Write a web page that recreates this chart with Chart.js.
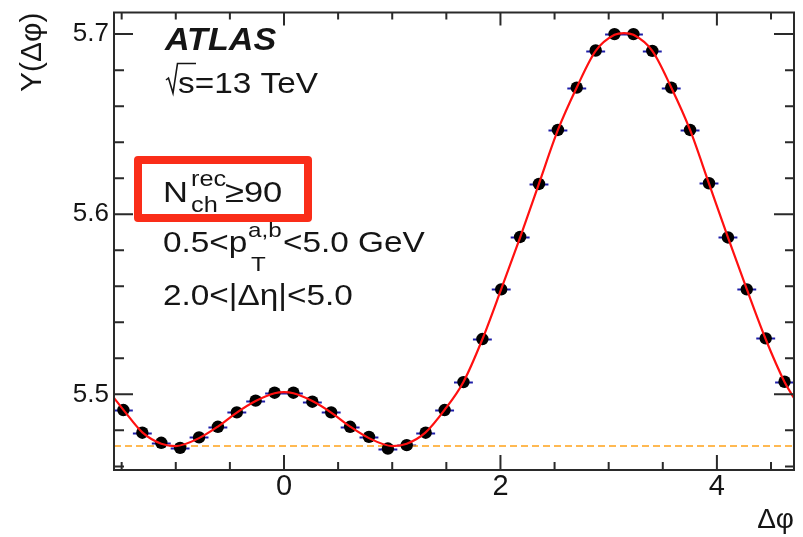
<!DOCTYPE html>
<html>
<head>
<meta charset="utf-8">
<script src="https://cdn.jsdelivr.net/npm/chart.js@4/dist/chart.umd.min.js"></script>
<style>
  html, body { margin: 0; padding: 0; background: #fff; }
  canvas { display: block; }
</style>
</head>
<body>
<canvas id="c" width="803" height="537"></canvas>
<script>
// Δφ bin centres (36 bins over [-π/2, 3π/2])
const dPhi = [-1.484, -1.309, -1.134, -0.960, -0.785, -0.611, -0.436, -0.262, -0.087,
               0.087,  0.262,  0.436,  0.611,  0.785,  0.960,  1.134,  1.309,  1.484,
               1.658,  1.833,  2.007,  2.182,  2.356,  2.531,  2.705,  2.880,  3.054,
               3.229,  3.403,  3.578,  3.752,  3.927,  4.102,  4.276,  4.451,  4.625];
// per-trigger yield Y(Δφ)
const yield_ = [5.4913, 5.4787, 5.4731, 5.4703, 5.4761, 5.4820, 5.4900, 5.4965, 5.5009,
                5.5009, 5.4959, 5.4900, 5.4820, 5.4764, 5.4699, 5.4718, 5.4787, 5.4913,
                5.5068, 5.5307, 5.5583, 5.5874, 5.6168, 5.6468, 5.6703, 5.6909, 5.7000,
                5.7000, 5.6907, 5.6703, 5.6468, 5.6172, 5.5871, 5.5583, 5.5311, 5.5070];
// half bin width (horizontal error bars)
const binHalfWidth = 0.0873;

// Fourier fit curve, sampled
const fitX = [-1.571, -1.484, -1.309, -1.134, -1.000, -0.785, -0.611, -0.436, -0.262, -0.087, 0.000,
               0.087,  0.262,  0.436,  0.611,  0.785,  1.000,  1.134,  1.309,  1.484,  1.658,
               1.833,  2.007,  2.182,  2.356,  2.531,  2.705,  2.880,  3.054,  3.142,  3.229,
               3.403,  3.578,  3.752,  3.927,  4.102,  4.276,  4.451,  4.625,  4.712];
const fitY = [5.4980, 5.4914, 5.4789, 5.4726, 5.4713, 5.4757, 5.4821, 5.4899, 5.4963, 5.5006, 5.5012,
              5.5006, 5.4963, 5.4899, 5.4821, 5.4757, 5.4713, 5.4726, 5.4789, 5.4914, 5.5069,
              5.5306, 5.5584, 5.5872, 5.6170, 5.6468, 5.6704, 5.6907, 5.6996, 5.7006, 5.6996,
              5.6907, 5.6704, 5.6468, 5.6170, 5.5872, 5.5584, 5.5306, 5.5069, 5.4980];
// ZYAM pedestal level
const pedestal = 5.4713;

// axis labels
const xTickLabels = [0, 2, 4];
const yTickLabels = [5.5, 5.6, 5.7];
const xMin = -Math.PI / 2, xMax = 3 * Math.PI / 2;
const yMin = 5.458, yMax = 5.712;

const FONT = '"Liberation Sans", Arial, Helvetica, sans-serif';
const INK = '#151515';

const points = dPhi.map((x, i) => ({ x, y: yield_[i] }));
const fitPts = fitX.map((x, i) => ({ x, y: fitY[i] }));
const pedPts = [{ x: xMin, y: pedestal }, { x: xMax, y: pedestal }];

// horizontal error bars along each bin
const errorBars = {
  id: 'errorBars',
  beforeDatasetsDraw(chart) {
    const { ctx, scales: { x, y } } = chart;
    ctx.save();
    ctx.strokeStyle = '#1e1ea8';
    ctx.lineWidth = 2;
    points.forEach(p => {
      const py = Math.round(y.getPixelForValue(p.y)) + 0.5;
      ctx.beginPath();
      ctx.moveTo(x.getPixelForValue(p.x - binHalfWidth), py);
      ctx.lineTo(x.getPixelForValue(p.x + binHalfWidth), py);
      ctx.stroke();
    });
    ctx.restore();
  }
};

// frame with inward ticks on all four sides
const frame = {
  id: 'frame',
  afterDraw(chart) {
    const { ctx, chartArea: a, scales: { x, y } } = chart;
    ctx.save();
    ctx.strokeStyle = '#2a2a2a';
    ctx.lineWidth = 2;
    ctx.strokeRect(a.left, a.top, a.right - a.left, a.bottom - a.top);
    ctx.beginPath();
    for (let k = -3; k <= 9; k++) {
      const v = k * 0.5;
      if (v < xMin || v > xMax) continue;
      const px = x.getPixelForValue(v);
      const major = (k % 4 === 0);
      ctx.moveTo(px, a.bottom); ctx.lineTo(px, a.bottom - (major ? 15 : 8));
      ctx.moveTo(px, a.top); ctx.lineTo(px, a.top + (major ? 13 : 7));
    }
    for (let k = 273; k <= 285; k++) {
      const v = k * 0.02;
      if (v < yMin || v > yMax) continue;
      const py = y.getPixelForValue(v);
      const major = (k % 5 === 0);
      ctx.moveTo(a.left, py); ctx.lineTo(a.left + (major ? 19 : 10), py);
      ctx.moveTo(a.right, py); ctx.lineTo(a.right - (major ? 20 : 9), py);
    }
    ctx.stroke();
    ctx.restore();
  }
};

function wideText(ctx, text, x, y, font, sx) {
  ctx.save();
  ctx.font = font;
  ctx.translate(x, y);
  ctx.scale(sx, 1);
  ctx.fillText(text, 0, 0);
  ctx.restore();
}

// experiment label and selection text
const labels = {
  id: 'labels',
  afterDraw(chart) {
    const { ctx } = chart;
    ctx.save();
    ctx.fillStyle = INK;
    ctx.textBaseline = 'alphabetic';
    ctx.textAlign = 'left';
    const SX = 1.15;

    wideText(ctx, 'ATLAS', 165, 50, `italic bold 31px ${FONT}`, 1.1);

    // √s=13 TeV
    ctx.strokeStyle = INK;
    ctx.lineWidth = 1.6;
    ctx.lineJoin = 'miter';
    ctx.beginPath();
    ctx.moveTo(166, 80); ctx.lineTo(168.5, 78);
    ctx.lineTo(173, 93); ctx.lineTo(177.5, 63.5); ctx.lineTo(196, 63.5);
    ctx.stroke();
    wideText(ctx, 's=13 TeV', 178, 92.7, `29px ${FONT}`, SX);

    // multiplicity selection in a red box
    ctx.strokeStyle = '#fa2d19';
    ctx.lineWidth = 8;
    ctx.lineJoin = 'round';
    ctx.strokeRect(138, 160, 170, 58);
    wideText(ctx, 'N', 163, 201.7, `30px ${FONT}`, SX);
    wideText(ctx, 'rec', 191, 186, `22px ${FONT}`, SX);
    wideText(ctx, 'ch', 191, 211.5, `22px ${FONT}`, SX);
    wideText(ctx, '≥90', 225, 201.7, `30px ${FONT}`, SX);

    // pT range
    wideText(ctx, '0.5<p', 163, 251.7, `29px ${FONT}`, SX);
    wideText(ctx, 'a,b', 248, 237, `21px ${FONT}`, SX);
    wideText(ctx, 'T', 251, 270.5, `21px ${FONT}`, SX);
    wideText(ctx, '<5.0 GeV', 283, 251.7, `29px ${FONT}`, SX);

    // Δη gap
    wideText(ctx, '2.0<|Δη|<5.0', 163, 305, `29px ${FONT}`, SX);
    ctx.restore();
  }
};

new Chart(document.getElementById('c'), {
  type: 'scatter',
  data: {
    datasets: [
      {
        label: 'fit',
        type: 'line',
        data: fitPts,
        borderColor: '#ff1010',
        borderWidth: 2.2,
        pointRadius: 0,
        cubicInterpolationMode: 'monotone',
        fill: false,
        order: 0
      },
      {
        label: 'data',
        data: points,
        backgroundColor: '#000',
        borderWidth: 0,
        pointRadius: 6.2,
        showLine: false,
        order: 1
      },
      {
        label: 'pedestal',
        type: 'line',
        data: pedPts,
        borderColor: '#ffa21a',
        borderWidth: 1.6,
        borderDash: [7, 4],
        pointRadius: 0,
        fill: false,
        order: 3
      }
    ]
  },
  options: {
    responsive: false,
    animation: false,
    layout: { padding: { top: 12.5, right: 9, left: 0, bottom: 0 } },
    plugins: { legend: { display: false }, tooltip: { enabled: false } },
    scales: {
      x: {
        type: 'linear',
        min: xMin, max: xMax,
        afterBuildTicks: s => { s.ticks = xTickLabels.map(v => ({ value: v })); },
        afterFit: s => { s.height = 67; s.paddingLeft = 0; s.paddingRight = 0; },
        grid: { display: false, drawTicks: false },
        border: { display: false },
        ticks: {
          color: INK, padding: 0, maxRotation: 0, autoSkip: false,
          font: { family: FONT, size: 29 },
          callback: v => String(v)
        },
        title: {
          display: true, text: 'Δφ', align: 'end', color: INK,
          font: { family: FONT, size: 28, lineHeight: 1.2 }, padding: 0
        }
      },
      y: {
        type: 'linear',
        min: yMin, max: yMax,
        afterBuildTicks: s => { s.ticks = yTickLabels.map(v => ({ value: v })); },
        afterFit: s => { s.width = 114; s.paddingTop = 0; s.paddingBottom = 0; },
        grid: { display: false, drawTicks: false },
        border: { display: false },
        ticks: {
          color: INK, padding: 5, autoSkip: false,
          font: { family: FONT, size: 26 },
          callback: v => v.toFixed(1)
        },
        title: {
          display: true, text: 'Y(Δφ)', align: 'end', color: INK,
          font: { family: FONT, size: 30, lineHeight: 1.2 }, padding: { top: 15, bottom: 0 }
        }
      }
    }
  },
  plugins: [errorBars, frame, labels]
});
</script>
</body>
</html>
